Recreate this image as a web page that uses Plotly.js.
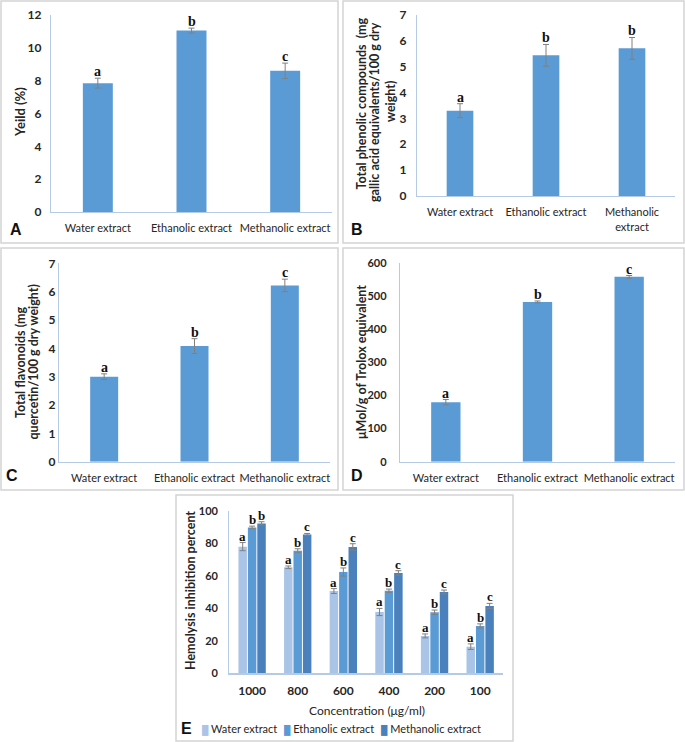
<!DOCTYPE html>
<html><head><meta charset="utf-8">
<script src="https://cdn.plot.ly/plotly-3.0.1.min.js"></script>
<style>html,body{margin:0;padding:0;background:#fff}</style>
</head><body><div id="chart" style="width:685px;height:742px"></div>
<script>
// ---------- data ----------
const extracts = ['Water extract', 'Ethanolic extract', 'Methanolic extract'];
const extractTicksB = ['Water extract', 'Ethanolic extract', 'Methanolic<br>extract'];

const yieldVals = [7.85, 11.05, 8.6];
const yieldErr = [0.3, 0.15, 0.47];
const yieldLetters = ['a', 'b', 'c'];

const phenolicVals = [3.3, 5.44, 5.71];
const phenolicErr = [0.27, 0.42, 0.42];
const phenolicLetters = ['a', 'b', 'b'];

const flavonoidVals = [3.0, 4.08, 6.22];
const flavonoidErr = [0.1, 0.26, 0.22];
const flavonoidLetters = ['a', 'b', 'c'];

const troloxVals = [180, 483, 559];
const troloxErr = [8, 3, 4];
const troloxLetters = ['a', 'b', 'c'];

const concentrations = ['1000', '800', '600', '400', '200', '100'];
const hemoWater = [77.9, 65.2, 50.6, 37.7, 23.0, 16.4];
const hemoWaterErr = [2.5, 0.8, 1.5, 2.2, 1.2, 1.7];
const hemoEthanol = [89.7, 75.4, 62.3, 50.8, 37.5, 29.1];
const hemoEthanolErr = [0.8, 1.2, 2.5, 1.0, 1.4, 1.3];
const hemoMethanol = [92.2, 85.4, 77.7, 61.7, 50.0, 41.4];
const hemoMethanolErr = [1.0, 0.6, 2.0, 1.4, 1.2, 1.6];
const hemoWaterLetters = ['a', 'a', 'a', 'a', 'a', 'a'];
const hemoEthanolLetters = ['b', 'b', 'b', 'b', 'b', 'b'];
const hemoMethanolLetters = ['b', 'c', 'c', 'c', 'c', 'c'];

// ---------- styling ----------
const W = 685, H = 742;
const px = v => v / W;
const py = v => 1 - v / H;
const FONT = 'Lato, "Noto Sans", sans-serif';
const SERIF = '"Liberation Serif", "Times New Roman", serif';
const SANS = '"Liberation Sans", Arial, sans-serif';
const BAR = '#5b9bd5';
const COLW = '#a9c4e7', COLE = '#5b9bd5', COLM = '#4a80bc';
const AXIS = '#b4cbe6';
const ERR = '#808080';
const TXT = '#262626';

function errStyle(arr) {
  return {type: 'data', array: arr, visible: true, color: ERR, thickness: 1, width: 3};
}

function xAxis(domain, anchor, size, weight) {
  return {
    domain: domain, anchor: anchor, type: 'category',
    showline: true, linecolor: AXIS, linewidth: 1.2,
    showgrid: false, zeroline: false, ticks: '', tickangle: 0,
    tickfont: {family: FONT, size: size || 11, color: TXT, weight: weight || 'normal'},
    ticklabelstandoff: 6,
    fixedrange: true
  };
}
function yAxis(domain, anchor, range, dtick, standoff, size) {
  return {
    domain: domain, anchor: anchor, range: range, dtick: dtick,
    showline: true, linecolor: AXIS, linewidth: 1.2,
    showgrid: false, zeroline: false, ticks: '',
    tickfont: {family: FONT, size: size || 12, color: TXT, weight: 'bold'},
    ticklabelstandoff: standoff,
    fixedrange: true
  };
}

const traces = [];
const annotations = [];

function singlePanel(xa, ya, cats, vals, errs, letters, width) {
  traces.push({
    type: 'bar', x: cats, y: vals, xaxis: xa, yaxis: ya, width: width,
    marker: {color: BAR}, error_y: errStyle(errs), showlegend: false, hoverinfo: 'skip'
  });
  letters.forEach((l, i) => {
    annotations.push({
      xref: xa, yref: ya, x: cats[i], y: vals[i] + errs[i], text: l,
      showarrow: false, yanchor: 'bottom', yshift: -3,
      font: {family: SERIF, size: 14, color: '#111', weight: 'bold'}
    });
  });
}

singlePanel('x', 'y', extracts, yieldVals, yieldErr, yieldLetters, 0.32);
singlePanel('x2', 'y2', extractTicksB, phenolicVals, phenolicErr, phenolicLetters, 0.31);
singlePanel('x3', 'y3', extracts, flavonoidVals, flavonoidErr, flavonoidLetters, 0.31);
singlePanel('x4', 'y4', extracts, troloxVals, troloxErr, troloxLetters, 0.32);

// Panel E grouped bars
const bargapE = 0.38;
const seriesE = [
  {name: extracts[0], y: hemoWater, e: hemoWaterErr, l: hemoWaterLetters, c: COLW},
  {name: extracts[1], y: hemoEthanol, e: hemoEthanolErr, l: hemoEthanolLetters, c: COLE},
  {name: extracts[2], y: hemoMethanol, e: hemoMethanolErr, l: hemoMethanolLetters, c: COLM}
];
const slot = (1 - bargapE) / seriesE.length;
seriesE.forEach((s, k) => {
  traces.push({
    type: 'bar', name: s.name, x: concentrations, y: s.y, xaxis: 'x5', yaxis: 'y5',
    marker: {color: s.c}, error_y: errStyle(s.e), showlegend: false, hoverinfo: 'skip'
  });
  s.l.forEach((l, i) => {
    annotations.push({
      xref: 'x5', yref: 'y5', x: i + (k - (seriesE.length - 1) / 2) * slot, y: s.y[i] + s.e[i],
      text: l, showarrow: false, yanchor: 'bottom', yshift: -3,
      font: {family: SERIF, size: 13, color: '#111', weight: 'bold'}
    });
  });
});

// legend for E (colour swatches + names)
const legendX = [201, 283, 380];
seriesE.forEach((s, k) => {
  annotations.push({
    xref: 'paper', yref: 'paper', x: px(legendX[k]), y: py(729), xanchor: 'left', yanchor: 'middle',
    text: '<span style="color:' + s.c + ';font-size:9px">█</span> ' + s.name, showarrow: false,
    font: {family: FONT, size: 11, color: TXT}, borderpad: 0
  });
});

// axis titles
function vtitle(x, y, text, size) {
  annotations.push({
    xref: 'paper', yref: 'paper', x: px(x), y: py(y), text: text, textangle: -90,
    showarrow: false, xanchor: 'center', yanchor: 'middle',
    font: {family: FONT, size: size || 13, color: TXT, weight: 'bold'}
  });
}
vtitle(20, 112, 'Yeild (%)');
vtitle(360.5, 104, 'Total phenolic compounds  (mg', 12.5);
vtitle(375, 112, 'gallic acid equivalents/100 g dry', 12.5);
vtitle(390, 102, 'weight)', 12.5);
vtitle(20, 363, 'Total flavonoids (mg', 12.5);
vtitle(33.5, 362, 'quercetin/100 g dry weight)', 12.5);
vtitle(362, 362, 'μMol/g of Trolox equivalent', 12.5);
vtitle(190, 591, 'Hemolysis inhibition percent', 12.5);

annotations.push({
  xref: 'paper', yref: 'paper', x: px(366.5), y: py(710.5), text: 'Concentration (μg/ml)',
  showarrow: false, xanchor: 'center', yanchor: 'middle',
  font: {family: FONT, size: 12, color: TXT}
});

// panel letters
[['A', 15.5, 229], ['B', 356.5, 229], ['C', 12.5, 475], ['D', 357, 475], ['E', 186.5, 728]].forEach(p => {
  annotations.push({
    xref: 'paper', yref: 'paper', x: px(p[1]), y: py(p[2]), text: p[0],
    showarrow: false, xanchor: 'center', yanchor: 'middle',
    font: {family: SANS, size: 16, color: '#111', weight: 'bold'}
  });
});

// frames
const frames = [[1, 1, 338, 243], [343, 1, 684, 243], [1, 248, 338, 490], [343, 248, 684, 490], [176, 495, 513, 741]];
const shapes = frames.map(f => ({
  type: 'rect', xref: 'paper', yref: 'paper', x0: px(f[0]), x1: px(f[2]), y0: py(f[3]), y1: py(f[1]),
  line: {color: '#d4d4d4', width: 1.5}, fillcolor: 'rgba(0,0,0,0)', layer: 'below'
}));

const layout = {
  width: W, height: H, margin: {l: 0, r: 0, t: 0, b: 0},
  paper_bgcolor: '#fff', plot_bgcolor: 'rgba(0,0,0,0)',
  barmode: 'group', bargap: bargapE, bargroupgap: 0.1,
  showlegend: false,
  xaxis: xAxis([px(51), px(332)], 'y'),
  yaxis: yAxis([py(212), py(15)], 'x', [0, 12], 2, 6),
  xaxis2: xAxis([px(417), px(675)], 'y2'),
  yaxis2: yAxis([py(196), py(15)], 'x2', [0, 7], 1, 7),
  xaxis3: xAxis([px(59), px(330)], 'y3'),
  yaxis3: yAxis([py(461.7), py(263.3)], 'x3', [0, 7], 1, 7.5),
  xaxis4: xAxis([px(400), px(675)], 'y4'),
  yaxis4: yAxis([py(461.7), py(263.3)], 'x4', [0, 600], 100, 10, 11),
  xaxis5: xAxis([px(229.3), px(503)], 'y5', 12, 'bold'),
  yaxis5: yAxis([py(673.3), py(510.7)], 'x5', [0, 100], 20, 8, 11),
  annotations: annotations,
  shapes: shapes
};

Plotly.newPlot('chart', traces, layout, {displayModeBar: false, staticPlot: true});
</script>
</body></html>
